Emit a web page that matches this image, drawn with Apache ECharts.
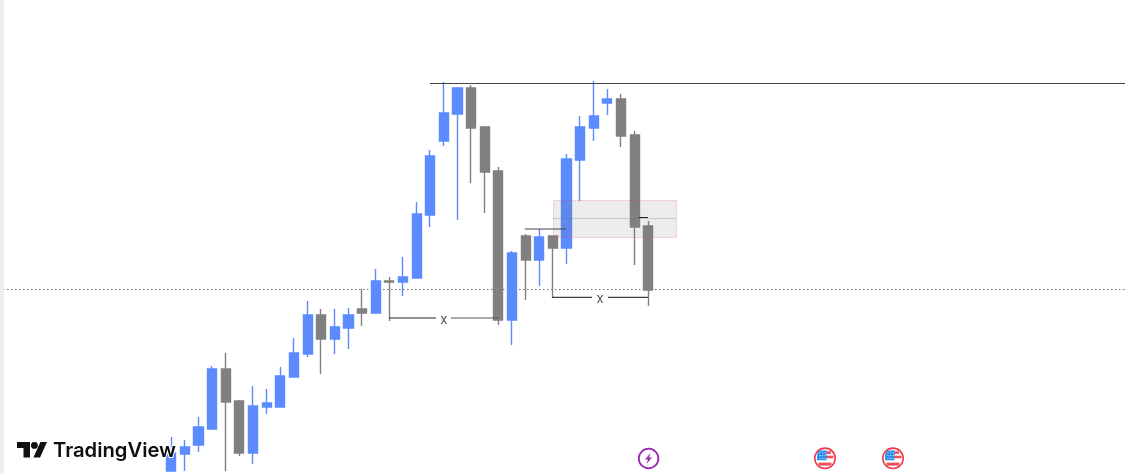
<!DOCTYPE html>
<html>
<head>
<meta charset="utf-8">
<style>html,body{margin:0;padding:0;background:#fff}#c{width:1125px;height:474px}</style>
<script src="https://cdn.jsdelivr.net/npm/echarts@6/dist/echarts.min.js"></script>
</head>
<body>
<div id="c"></div>
<script>
// candle values
const opens  = [3,20,29,45,105,73,21,67,67,97,120,159,135,146,165,161,193,192,196,259,333,360,386,347,303,154,238,214,238,226,314,346,371,375,339,248];
const closes = [21,27,47,105,72,21,68,71,98,121,159,135,147,159,161,193,192,197,260,318,361,386,346,302,154,221,214,237,226,315,347,358,375,338,247,184];
const lows   = [3,3,22,45,3,18,10,60,67,97,117,100,120,125,148,161,153,178,196,247,328,254,291,261,149,129,174,188,177,210,273,333,359,327,209,168];
const highs  = [37,34,57,108,121,74,88,85,107,136,173,165,165,166,185,205,197,217,272,324,392,387,389,348,307,223,240,245,238,320,358,393,385,380,343,253];
const leadingBars = 12;
const trailingBars = 35;

// drawn annotations: bar-index span and price level
const resistance = {from: 30.98, to: 82.5, price: 390.5};
const session    = {from: -0.35, to: 82.5, price: 184.5};
const swingLevel = {from: 37.95, to: 40.96, price: 245};
const shortLevel = {from: 46.3, to: 46.97, price: 256.5};
const zone       = {from: 39.99, to: 49.03, top: 274, bottom: 237, mid: 255.5};
const measureA   = {from: 28, gapFrom: 31.42, gapTo: 32.52, to: 36, price: 156, labelAt: 32, labelPrice: 154};
const measureB   = {from: 39.93, gapFrom: 42.87, gapTo: 44.04, to: 46.97, price: 176.7, labelAt: 43.45, labelPrice: 175};
const measureLabel = 'x';
const brand = 'TradingView';

const blue = '#5b8bff', gray = '#808080';
const candleData = [];
for (let i = 0; i < leadingBars; i++) candleData.push('-');
opens.forEach((o, i) => candleData.push([o, closes[i], lows[i], highs[i]]));
for (let i = 0; i < trailingBars; i++) candleData.push('-');
const categories = candleData.map((_, i) => String(i));

function seg(from, to, price, color, type, z) {
  return {
    type: 'line', xAxisIndex: 1, yAxisIndex: 0, symbol: 'none', silent: true, z: z || 5,
    lineStyle: {color: color, width: 1, type: type || 'solid'},
    data: [[from, price], [to, price]]
  };
}
function labelAt(m) {
  return {
    type: 'scatter', xAxisIndex: 1, yAxisIndex: 0, symbolSize: 0, silent: true, z: 6,
    data: [[m.labelAt, m.labelPrice]],
    label: {show: true, position: 'inside', formatter: measureLabel, color: '#222', fontFamily: 'Inter', fontSize: 13}
  };
}

function flag(cx, cy) {
  const red = '#f0525c', b = '#2b8ff0';
  const els = [
    {type: 'circle', shape: {cx: cx, cy: cy, r: 10.2}, style: {fill: '#fff', stroke: '#f23645', lineWidth: 1.6}},
    {type: 'rect', shape: {x: cx + 1, y: cy - 7, width: 5, height: 2.6}, style: {fill: red}},
    {type: 'rect', shape: {x: cx + 1, y: cy - 2.6, width: 7.5, height: 2.6}, style: {fill: red}},
    {type: 'rect', shape: {x: cx - 6.5, y: cy + 4.3, width: 13, height: 3}, style: {fill: red}},
    {type: 'polygon', shape: {points: [[cx - 6.5, cy - 7.5], [cx + 1.5, cy - 8], [cx + 1.5, cy + 2], [cx - 8, cy + 2], [cx - 8, cy - 3]]}, style: {fill: b}}
  ];
  for (let r = 0; r < 3; r++) for (let c = 0; c < 3; c++) {
    els.push({type: 'rect', shape: {x: cx - 5.5 + c * 2.6, y: cy - 6 + r * 2.8, width: 1, height: 1}, style: {fill: '#cfe6ff'}});
  }
  return els;
}

const graphicEls = [
  {type: 'rect', shape: {x: 0, y: 0, width: 4, height: 474}, style: {fill: '#eeeeee'}},
  {type: 'polygon', shape: {points: [[17,442],[30,442],[30,457.4],[23.5,457.4],[23.5,448],[17,448]]}, style: {fill: '#0f0f0f'}},
  {type: 'polygon', shape: {points: [[40.4,442],[47,442],[40,457.4],[33.4,457.4]]}, style: {fill: '#0f0f0f'}},
  {type: 'circle', shape: {cx: 34.4, cy: 445.4, r: 3.4}, style: {fill: '#0f0f0f'}},
  {type: 'text', x: 53, y: 451, style: {text: brand, fill: '#0f0f0f', fontFamily: 'Inter', fontWeight: 600, fontSize: 20.2, verticalAlign: 'middle', stroke: '#fff', lineWidth: 2}},
  {type: 'circle', shape: {cx: 648.6, cy: 458.5, r: 9.8}, style: {fill: '#fff', stroke: '#9c27b0', lineWidth: 1.8}},
  {type: 'polygon', shape: {points: [[650.5,453],[645,459.5],[648,459.5],[646.5,464],[652,457.5],[649,457.5]]}, style: {fill: '#9c27b0'}}
].concat(flag(825, 458.3), flag(893, 458.3)).map(e => Object.assign({silent: true, z: 100}, e));

const option = {
  animation: false,
  backgroundColor: '#fff',
  grid: {left: 0.9, top: 0, width: 83 * 13.63, height: 474, outerBoundsMode: 'none'},
  xAxis: [
    {type: 'category', data: categories, boundaryGap: true, show: false},
    {type: 'value', min: -0.5, max: 82.5, show: false}
  ],
  yAxis: [{type: 'value', min: 0, max: 474, show: false}],
  series: [
    seg(session.from, session.to, session.price, '#707070', [1.5, 2.5], 1),
    {
      type: 'candlestick', xAxisIndex: 0, yAxisIndex: 0, barWidth: 9.6, z: 2, clip: false,
      itemStyle: {color: blue, color0: gray, borderColor: blue, borderColor0: gray, borderWidth: 1.4},
      data: candleData
    },
    {
      type: 'custom', xAxisIndex: 1, yAxisIndex: 0, silent: true, z: 4,
      data: [[zone.from, zone.to, zone.top, zone.bottom]],
      encode: {x: [0, 1], y: [2, 3]},
      renderItem: function (params, api) {
        const a = api.coord([api.value(0), api.value(2)]);
        const b = api.coord([api.value(1), api.value(3)]);
        return {
          type: 'rect',
          shape: {x: Math.round(a[0]) + 0.5, y: Math.round(a[1]) + 0.5, width: Math.round(b[0] - a[0]), height: Math.round(b[1] - a[1])},
          style: {fill: 'rgba(120,120,120,0.14)', stroke: 'rgba(242,54,110,0.2)', lineWidth: 1}
        };
      }
    },
    seg(zone.from, zone.to, zone.mid, 'rgba(110,110,110,0.28)'),
    seg(resistance.from, resistance.to, resistance.price, '#444444'),
    seg(swingLevel.from, swingLevel.to, swingLevel.price, '#444444'),
    seg(shortLevel.from, shortLevel.to, shortLevel.price, '#222222'),
    seg(measureA.from, measureA.gapFrom, measureA.price, '#222222'),
    seg(measureA.gapTo, measureA.to, measureA.price, '#555555'),
    seg(measureB.from, measureB.gapFrom, measureB.price, '#111111'),
    seg(measureB.gapTo, measureB.to, measureB.price, '#111111'),
    labelAt(measureA),
    labelAt(measureB)
  ],
  graphic: {elements: graphicEls}
};
const chart = echarts.init(document.getElementById('c'), null, {renderer: 'canvas'});
chart.setOption(option);
</script>
</body>
</html>
